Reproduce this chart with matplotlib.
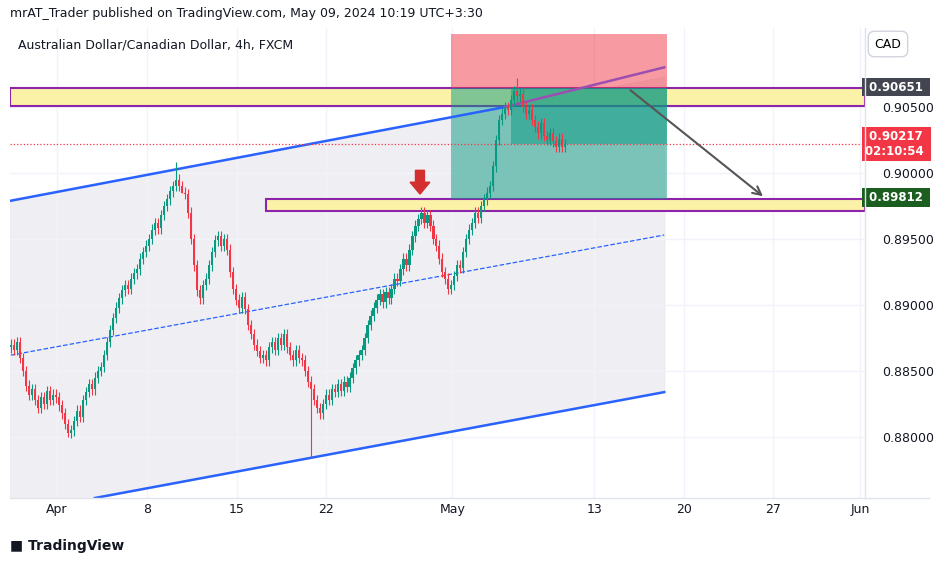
import matplotlib.pyplot as plt
import numpy as np
from matplotlib.patches import Rectangle, Polygon

# 4h closes, AUD/CAD, from ~Mar 28 to May 9 2024
closes = [
    0.8870, 0.8866, 0.8872, 0.8860, 0.8850, 0.8839,
    0.8832, 0.8836, 0.8828,
    0.8822, 0.8830, 0.8825, 0.8835, 0.8828, 0.8832, 0.8830,
    0.8824, 0.8818, 0.8810, 0.8803, 0.8805,
    0.8812, 0.8820, 0.8815, 0.8828, 0.8834,
    0.8840, 0.8836, 0.8845, 0.8850, 0.8853,
    0.8862, 0.8872, 0.8881,
    0.8890, 0.8898, 0.8905, 0.8911,
    0.8915, 0.8912, 0.8920, 0.8924, 0.8927,
    0.8935, 0.8940, 0.8945, 0.8950, 0.8957,
    0.8962, 0.8958, 0.8968, 0.8975, 0.8980,
    0.8986, 0.8990, 0.8995,
    0.8990, 0.8985, 0.8984,
    0.8970, 0.8950, 0.8930, 0.8911,
    0.8905, 0.8915, 0.8920,
    0.8930, 0.8940, 0.8949,
    0.8952, 0.8945, 0.8950, 0.8942,
    0.8925, 0.8912, 0.8904,
    0.8898, 0.8906, 0.8897,
    0.8885, 0.8878, 0.8870, 0.8865,
    0.8860, 0.8862, 0.8858,
    0.8868, 0.8872, 0.8866,
    0.8875, 0.8870, 0.8878, 0.8868,
    0.8862, 0.8858, 0.8866, 0.8860, 0.8858,
    0.8850, 0.8842, 0.8836,
    0.8828, 0.8822, 0.8818,
    0.8825, 0.8832, 0.8828, 0.8836,
    0.8834, 0.8840, 0.8835, 0.8842, 0.8838,
    0.8845, 0.8852, 0.8858, 0.8862, 0.8866,
    0.8875, 0.8885, 0.8892, 0.8898, 0.8904,
    0.8908, 0.8902, 0.8910, 0.8905, 0.8912,
    0.8920, 0.8918, 0.8927,
    0.8935, 0.8930, 0.8942,
    0.8952, 0.8960, 0.8965, 0.8970,
    0.8962, 0.8968, 0.8960,
    0.8950, 0.8945, 0.8935,
    0.8925, 0.8920, 0.8912, 0.8915,
    0.8922, 0.8930, 0.8928,
    0.8940, 0.8950, 0.8957,
    0.8962, 0.8970, 0.8966, 0.8975,
    0.8980, 0.8985, 0.8990,
    0.9005, 0.9025, 0.9040,
    0.9045, 0.9050, 0.9048, 0.9055,
    0.9062, 0.9058, 0.9060,
    0.9050, 0.9045, 0.9048,
    0.9040, 0.9035, 0.9030, 0.9038,
    0.9028, 0.9025, 0.9030,
    0.9024, 0.9020, 0.9026, 0.9020, 0.9022,
]
first_open = 0.8868
spike_lows = {100: 0.8785, 57: 0.8985, 19: 0.8800}
spike_highs = {55: 0.9008, 169: 0.9072}

tick_pos = [15.3, 45.3, 75.3, 105, 147.3, 194.7, 224.7, 254.3, 283.3]
tick_labels = ['Apr', '8', '15', '22', 'May', '13', '20', '27', 'Jun']
price_ticks = [0.880, 0.885, 0.890, 0.895, 0.900, 0.905]

# drawings (bar index, price)
upper_line = [(0, 0.8979), (165, 0.9050)]
upper_line2 = [(165, 0.9050), (218, 0.9080)]
lower_line = [(28, 0.87538), (218, 0.8834)]
mid_line = [(0, 0.8862), (218, 0.8953)]
top_zone = (0.9051, 0.9064)
low_zone = (0.8971, 0.8980)
entry, stop, target = 0.9064, 0.9105, 0.8980
last = 0.9022

GREEN, RED = '#089981', '#f23645'
YMIN, YMAX = 0.87538, 0.91098
XMIN, XMAX = -0.3, 285

fig = plt.figure(figsize=(9.39, 5.63), dpi=100)
ax = fig.add_axes([10/939, 65/563, 855/939, 470/563])
ax.set_xlim(XMIN, XMAX)
ax.set_ylim(YMIN, YMAX)

# channel fill
xs = np.array([XMIN, 218])
def line_y(l, x):
    (x0, y0), (x1, y1) = l
    return y0 + (y1 - y0) * (x - x0) / (x1 - x0)
ax.fill_between(xs, line_y(lower_line, xs), line_y(upper_line, xs), color='#e9e9ee', alpha=0.7, zorder=0)

# zones
ax.add_patch(Rectangle((XMIN, top_zone[0]), XMAX - XMIN, top_zone[1] - top_zone[0],
                       facecolor='#fbf2a8', edgecolor='#8e24aa', lw=1.5, zorder=1))
ax.add_patch(Rectangle((85, low_zone[0]), XMAX - 85, low_zone[1] - low_zone[0],
                       facecolor='#fbf2a8', edgecolor='#8e24aa', lw=1.5, zorder=1))

# position box
ax.add_patch(Rectangle((147, entry), 72, stop - entry, facecolor='#f23645', alpha=0.5, lw=0, zorder=2))
ax.add_patch(Rectangle((147, target), 72, entry - target, facecolor='#089981', alpha=0.5, lw=0, zorder=2))
ax.add_patch(Rectangle((167, last), 52, entry - last, facecolor='#089981', alpha=0.5, lw=0, zorder=2))

# lines
for l, c, ls in [(upper_line, '#2962ff', '-'), (upper_line2, '#9c4fb0', '-'),
                 (lower_line, '#2962ff', '-'), (mid_line, '#2962ff', '--')]:
    ax.plot([l[0][0], l[1][0]], [l[0][1], l[1][1]], color=c, ls=ls, lw=1.8 if ls == '-' else 0.9, zorder=3)
ax.axhline(last, color=RED, ls=':', lw=0.9, zorder=3)

# candles
opens = [first_open] + closes[:-1]
for i, (o, c) in enumerate(zip(opens, closes)):
    col = GREEN if c >= o else RED
    hi = spike_highs.get(i, max(o, c) + 0.0004)
    lo = spike_lows.get(i, min(o, c) - 0.0004)
    ax.vlines(i, lo, hi, color=col, lw=0.8, zorder=4)
    ax.bar(i, max(abs(c - o), 0.00005), bottom=min(o, c), width=0.7, color=col, zorder=4)

# arrows
ax.annotate('', xy=(251.7, 0.8981), xytext=(206, 0.9064),
            arrowprops=dict(arrowstyle='->', color='#555555', lw=1.5, mutation_scale=15), zorder=5)
ax.add_patch(Polygon([(135, 0.9002), (138, 0.9002), (138, 0.8993), (139.8, 0.8993),
                      (136.5, 0.8984), (133.2, 0.8993), (135, 0.8993)],
                     closed=True, color='#d32f2f', zorder=5))

ax.set_xticks(tick_pos)
ax.set_xticklabels(tick_labels)
ax.yaxis.tick_right()
ax.set_yticks(price_ticks)
ax.set_yticklabels([f'{p:.5f}' for p in price_ticks])
ax.tick_params(length=0, labelsize=9, colors='#131722')
ax.tick_params(axis='y', pad=12)
for s in ax.spines.values():
    s.set_visible(False)
ax.grid(True, color='#f0f3fa', lw=1, zorder=-1)
ax.set_axisbelow(True)
fig.add_artist(plt.Line2D([865/939, 865/939], [65/563, 535/563], color='#e0e3eb', lw=1))
fig.add_artist(plt.Line2D([10/939, 929/939], [65/563, 65/563], color='#e0e3eb', lw=1))

# price labels
def plabel(y, text, bg, fg='white'):
    ax.text(1.0, y, ' ' + text + ' ', transform=ax.get_yaxis_transform(), ha='left', va='center',
            fontsize=8.5, fontweight='bold', color=fg, zorder=6,
            bbox=dict(boxstyle='square,pad=0.25', fc=bg, ec='none'), clip_on=False)
plabel(0.90651, '0.90651', '#434651')
plabel(0.90217, '0.90217\n02:10:54', RED)
plabel(0.89812, '0.89812', '#1b5e20')
fig.text(888/939, 1 - 44/563, 'CAD', fontsize=9, ha='center', va='center',
         bbox=dict(boxstyle='round,pad=0.5', fc='white', ec='#d1d4dc'))

ax.text(8/855, 1 - 17/470, 'Australian Dollar/Canadian Dollar, 4h, FXCM', transform=ax.transAxes,
        fontsize=9, color='#131722', va='center')
fig.text(10/939, 1 - 14/563, 'mrAT_Trader published on TradingView.com, May 09, 2024 10:19 UTC+3:30',
         fontsize=9, color='#131722', va='center')
fig.text(10/939, 1 - 546/563, '\u25a0 TradingView', fontsize=10, fontweight='bold', color='#131722', va='center')

fig.savefig('out.png', dpi=100, facecolor='white')
